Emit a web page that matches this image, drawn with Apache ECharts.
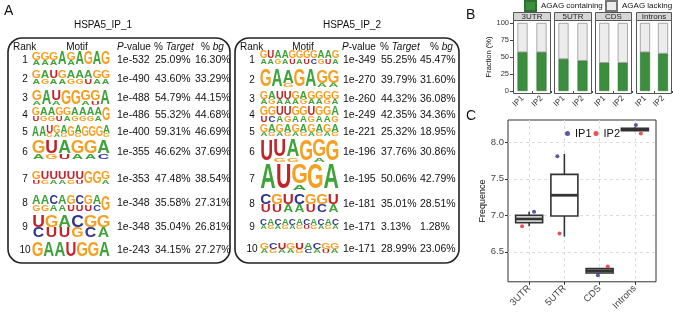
<!DOCTYPE html>
<html>
<head>
<meta charset="utf-8">
<script src="https://cdn.jsdelivr.net/npm/echarts@6/dist/echarts.min.js"></script>
<style>
  html, body { margin: 0; padding: 0; background: #fff; }
  #main { width: 673px; height: 313px; }
</style>
</head>
<body>
<div id="main"></div>
<script>
var FONT = 'Liberation Sans, Arial, sans-serif';

// ---- A: top motifs (HOMER) for the two replicates
var ranks = ['1', '2', '3', '4', '5', '6', '7', '8', '9', '10'];

var ip1Motifs = ['GGGAGAGAG', 'GAUGAAAGG', 'GAUGGGGA', 'GAAGGAAAAG', 'AAUGAGAGGGA',
                 'GUAGGA', 'GUUUUUGGG', 'AACAGCGAG', 'UGACGG', 'GAAUGGA'];
var ip1MotifsSub = ['AAA.A....', 'AGAAGGUAA', 'A.A..AU.', 'UGGUAGGGA.', '..GAG.G...G',
                    'AGUAAC', 'UGAAGU..A', 'GGAAUUUC.', 'CUUGCA', '.......'];
var ip1TopShare = [0.65, 0.6, 0.7, 0.6, 0.7, 0.7, 0.7, 0.6, 0.55, 1];
var ip1PValues = ['1e-532', '1e-490', '1e-488', '1e-486', '1e-400', '1e-355', '1e-353', '1e-348', '1e-348', '1e-243'];
var ip1Target = ['25.09%', '43.60%', '54.79%', '55.32%', '59.31%', '46.62%', '47.48%', '35.58%', '35.04%', '34.15%'];
var ip1Bg = ['16.30%', '33.29%', '44.15%', '44.68%', '46.69%', '37.69%', '38.54%', '27.31%', '26.81%', '27.27%'];

var ip2Motifs = ['GUAAGGGGAAG', 'GAAGAGG', 'GAUUGAGGGG', 'GGUUGGUGGA', 'GAGAGAGAGA',
                 'UUAGGG', 'AUGGA', 'CGUCGGU', 'CACACACACAC', 'GCUGUACGG'];
var ip2MotifsSub = ['AAGAUAUCGUA', '..G..AA', 'AGAAAGAAGA', 'UCAGAAGAAG', 'AGAGAGAGAG',
                    '.GG.A.', '..A..', 'UUAAUCA', 'AGAGAGUGAGA', 'AGAAGCAUA'];
var ip2TopShare = [0.6, 0.8, 0.65, 0.6, 0.7, 0.8, 0.8, 0.55, 0.65, 0.65];
var ip2PValues = ['1e-349', '1e-270', '1e-260', '1e-249', '1e-221', '1e-196', '1e-195', '1e-181', '1e-171', '1e-171'];
var ip2Target = ['55.25%', '39.79%', '44.32%', '42.35%', '25.32%', '37.76%', '50.06%', '35.01%', '3.13%', '28.99%'];
var ip2Bg = ['45.47%', '31.60%', '36.08%', '34.36%', '18.95%', '30.86%', '42.79%', '28.51%', '1.28%', '23.06%'];

// ---- B: fraction of peaks with AGAG
var regions = ['3UTR', '5UTR', 'CDS', 'Introns'];
var ipLabels = ['IP1', 'IP2'];
var agagContaining = [[57, 57], [47, 44.5], [41.5, 41.5], [57, 55]];
var agagLacking = [[43, 43], [53, 55.5], [58.5, 58.5], [43, 45]];
var fractionTicks = [0, 25, 50, 75, 100];

// ---- C: AGAG frequence per region
var freqCategories = ['3UTR', '5UTR', 'CDS', 'Introns'];
// [min, Q1, median, Q3, max]
var freqBoxes = [
  [6.85, 6.90, 6.95, 7.00, 7.05],
  [6.71, 6.99, 7.275, 7.56, 7.84],
  [6.20, 6.21, 6.24, 6.27, 6.28],
  [8.15, 8.16, 8.177, 8.19, 8.205]
];
var ip1Freq = [7.05, 7.81, 6.18, 8.235];
var ip2Freq = [6.85, 6.75, 6.30, 8.12];
var ip1Jitter = [0.14, -0.2, -0.05, 0.03];
var ip2Jitter = [-0.2, -0.14, 0.23, 0.17];
var freqTicks = [6.5, 7.0, 7.5, 8.0];

// ---- colours
var LETTER_COLORS = { A: '#3da33a', G: '#f6a023', U: '#c42229', C: '#2f3590' };
var GREEN = '#3b8e3e';
var LIGHT = '#ececec';

// ---- table layout
var tables = [
  { title: 'HSPA5_IP_1', titleX: 103, box: [8, 38, 222, 225],
    head: { rank: 13, motif: 77, p: 117, t: 154, bg: 201 },
    num: 25, motifX: 32, motifW: 78, p: 117, t: 155, bg: 195,
    rowY: [60, 79, 98, 115, 132, 152, 179, 203, 227, 250],
    logoY: [59, 78, 98, 115, 132, 151, 178, 204, 227, 250],
    logoH: [13, 13, 15, 13, 11, 18, 12, 15, 22, 15],
    motifs: ip1Motifs, sub: ip1MotifsSub, share: ip1TopShare,
    pv: ip1PValues, tg: ip1Target, bgv: ip1Bg },
  { title: 'HSPA5_IP_2', titleX: 352, box: [235, 38, 224, 225],
    head: { rank: 240, motif: 303, p: 342, t: 380, bg: 430 },
    num: 252, motifX: 260, motifW: 79, p: 343, t: 381, bg: 420,
    rowY: [60, 80, 99, 115, 132, 152, 179, 204, 227, 249],
    logoY: [58, 79, 98, 115, 131, 152, 178, 204, 224, 248],
    logoH: [14, 17, 13, 15, 11, 21, 25, 18, 11, 11],
    motifs: ip2Motifs, sub: ip2MotifsSub, share: ip2TopShare,
    pv: ip2PValues, tg: ip2Target, bgv: ip2Bg }
];

function txt(x, y, s, opt) {
  opt = opt || {};
  return {
    type: 'text', x: x, y: y, silent: true,
    style: {
      text: s, fill: opt.color || '#111', fontSize: opt.size || 10,
      fontFamily: FONT, fontWeight: opt.weight || 'normal',
      align: opt.align || 'left', verticalAlign: 'middle',
      textAlign: opt.align || 'left', textVerticalAlign: 'middle',
      rich: opt.rich
    }
  };
}

function letter(ch, cx, cy, w, h) {
  return {
    type: 'text', x: cx, y: cy, silent: true,
    scaleX: w / 14.8, scaleY: h / 14.4,
    style: {
      text: ch, fill: LETTER_COLORS[ch], fontSize: 20, fontWeight: 'bold', fontFamily: FONT,
      align: 'center', verticalAlign: 'middle', textAlign: 'center', textVerticalAlign: 'middle'
    }
  };
}

function logo(top, sub, share, x0, w, cy, h) {
  var els = [];
  var cw = w / top.length;
  for (var i = 0; i < top.length; i++) {
    var cx = x0 + cw * (i + 0.5);
    var y0 = cy - h / 2;
    var ht = sub[i] === '.' ? h : h * share;
    els.push(letter(top[i], cx, y0 + ht / 2, cw, ht));
    if (sub[i] !== '.') {
      els.push(letter(sub[i], cx, y0 + ht + (h - ht) / 2, cw * 0.9, h - ht));
    }
  }
  return els;
}

var italic = { it: { fontStyle: 'italic', fontSize: 10, fontFamily: FONT, fill: '#111' } };
var graphics = [];
tables.forEach(function (tb) {
  graphics.push(txt(tb.titleX, 25, tb.title, { align: 'center' }));
  graphics.push({
    type: 'rect', silent: true,
    shape: { x: tb.box[0], y: tb.box[1], width: tb.box[2], height: tb.box[3], r: 14 },
    style: { fill: 'none', stroke: '#222', lineWidth: 1.6 }
  });
  graphics.push(txt(tb.head.rank, 47, 'Rank'));
  graphics.push(txt(tb.head.motif, 47, 'Motif', { align: 'center' }));
  graphics.push(txt(tb.head.p, 47, '{it|P}-value', { rich: italic }));
  graphics.push(txt(tb.head.t, 47, '% {it|Target}', { rich: italic }));
  graphics.push(txt(tb.head.bg, 47, '% {it|bg}', { rich: italic }));
  ranks.forEach(function (r, i) {
    var y = tb.rowY[i];
    graphics.push(txt(tb.num, y, r, { align: 'center' }));
    graphics = graphics.concat(logo(tb.motifs[i], tb.sub[i], tb.share[i], tb.motifX, tb.motifW, tb.logoY[i], tb.logoH[i]));
    graphics.push(txt(tb.p, y, tb.pv[i], { size: 10.5 }));
    graphics.push(txt(tb.t, y, tb.tg[i], { size: 10.5 }));
    graphics.push(txt(tb.bg, y, tb.bgv[i], { size: 10.5 }));
  });
});

graphics.push(txt(4, 11, 'A', { size: 14 }));
graphics.push(txt(466, 15, 'B', { size: 14 }));
graphics.push(txt(466, 116, 'C', { size: 14 }));

// ---- B facets
var facetLeft = [513, 554, 595, 636];
var facetWidth = [38, 38, 37, 36];
var grids = [], xAxes = [], yAxes = [], series = [];

regions.forEach(function (reg, k) {
  grids.push({ left: facetLeft[k], top: 20, width: facetWidth[k], height: 74, show: false });
  xAxes.push({
    type: 'category', gridIndex: k, data: ipLabels,
    axisLine: { show: false },
    axisTick: { show: true, length: 2, lineStyle: { color: '#444' } },
    axisLabel: { rotate: 45, fontSize: 8, color: '#333', fontFamily: FONT, margin: 3 }
  });
  yAxes.push({
    type: 'value', gridIndex: k, min: -4.4, max: 104.4,
    name: k === 0 ? 'Fraction (%)' : '', nameLocation: 'middle', nameGap: 14,
    nameTextStyle: { fontSize: 7.5, color: '#111', fontFamily: FONT },
    axisLine: { show: false },
    splitLine: { show: false },
    axisTick: { show: k === 0, length: 3, customValues: fractionTicks, lineStyle: { color: '#444' } },
    axisLabel: { show: k === 0, customValues: fractionTicks, fontSize: 7.5, color: '#333', fontFamily: FONT, margin: 4 }
  });
  series.push({
    name: 'AGAG containing', type: 'bar', stack: 's' + k, xAxisIndex: k, yAxisIndex: k,
    barWidth: 10, data: agagContaining[k],
    itemStyle: { color: GREEN, borderColor: '#2f6f31', borderWidth: 0.5 }
  });
  series.push({
    name: 'AGAG lacking', type: 'bar', stack: 's' + k, xAxisIndex: k, yAxisIndex: k,
    barWidth: 10, data: agagLacking[k],
    itemStyle: { color: LIGHT, borderColor: '#777', borderWidth: 0.6 }
  });
  // panel border and strip
  graphics.push({
    type: 'rect', silent: true,
    shape: { x: facetLeft[k] + 0.5, y: 20.5, width: facetWidth[k] - 1, height: 73 },
    style: { fill: 'none', stroke: '#555', lineWidth: 1 }
  });
  graphics.push({
    type: 'rect', silent: true,
    shape: { x: facetLeft[k] + 0.5, y: 12.5, width: facetWidth[k] - 1, height: 8 },
    style: { fill: '#d6d6d6', stroke: '#555', lineWidth: 1 }
  });
  graphics.push(txt(facetLeft[k] + facetWidth[k] / 2, 16.5, reg, { align: 'center', size: 8, color: '#222' }));
});

// ---- C
var gC = grids.length;
grids.push({ left: 508, right: 17, top: 120, bottom: 26, show: true, borderColor: '#333', borderWidth: 1 });
xAxes.push({
  type: 'value', gridIndex: gC, min: 0.4, max: 4.6,
  axisLine: { show: false },
  axisTick: { show: true, length: 3, customValues: [1, 2, 3, 4], lineStyle: { color: '#333' } },
  axisLabel: {
    customValues: [1, 2, 3, 4], rotate: 45, fontSize: 9.5, color: '#444', fontFamily: FONT, margin: 5,
    formatter: function (v) { return freqCategories[Math.round(v) - 1]; }
  },
  splitLine: { show: true, lineStyle: { color: '#dcdcdc', type: [3, 3] } }
});
yAxes.push({
  type: 'value', gridIndex: gC, min: 6.09, max: 8.305,
  name: 'Frequence', nameLocation: 'middle', nameGap: 13,
  nameTextStyle: { fontSize: 9, color: '#111', fontFamily: FONT },
  axisLine: { show: false },
  axisTick: { show: true, length: 3, customValues: freqTicks, lineStyle: { color: '#333' } },
  axisLabel: {
    customValues: freqTicks, fontSize: 9.5, color: '#444', fontFamily: FONT, margin: 4,
    formatter: function (v) { return v.toFixed(1); }
  },
  splitLine: { show: true, lineStyle: { color: '#dcdcdc', type: [3, 3] } }
});

series.push({
  type: 'custom', xAxisIndex: gC, yAxisIndex: gC, silent: true,
  data: freqBoxes.map(function (b, i) { return [i + 1].concat(b); }),
  renderItem: function (params, api) {
    var x = api.value(0);
    var pMin = api.coord([x, api.value(1)]);
    var pQ1 = api.coord([x, api.value(2)]);
    var pMed = api.coord([x, api.value(3)]);
    var pQ3 = api.coord([x, api.value(4)]);
    var pMax = api.coord([x, api.value(5)]);
    var hw = 13.5;
    var st = { stroke: '#333', lineWidth: 1.6, fill: 'none' };
    return {
      type: 'group',
      children: [
        { type: 'line', shape: { x1: pMax[0], y1: pMax[1], x2: pQ3[0], y2: pQ3[1] }, style: st },
        { type: 'line', shape: { x1: pQ1[0], y1: pQ1[1], x2: pMin[0], y2: pMin[1] }, style: st },
        { type: 'rect', shape: { x: pQ3[0] - hw, y: pQ3[1], width: hw * 2, height: pQ1[1] - pQ3[1] },
          style: { stroke: '#333', lineWidth: 1.6, fill: '#fff' } },
        { type: 'line', shape: { x1: pMed[0] - hw, y1: pMed[1], x2: pMed[0] + hw, y2: pMed[1] },
          style: { stroke: '#333', lineWidth: 2.8 } }
      ]
    };
  }
});
series.push({
  name: 'IP1', type: 'scatter', xAxisIndex: gC, yAxisIndex: gC, symbolSize: 4,
  itemStyle: { color: '#2e2f8e' },
  data: ip1Freq.map(function (v, i) { return [i + 1 + ip1Jitter[i], v]; })
});
series.push({
  name: 'IP2', type: 'scatter', xAxisIndex: gC, yAxisIndex: gC, symbolSize: 4,
  itemStyle: { color: '#e4262b' },
  data: ip2Freq.map(function (v, i) { return [i + 1 + ip2Jitter[i], v]; })
});

var barLegend = {
  top: 0, padding: 0, icon: 'rect', itemWidth: 11, itemHeight: 10,
  textStyle: { fontSize: 8, color: '#111' }
};

var chart = echarts.init(document.getElementById('main'));
chart.setOption({
  animation: false,
  backgroundColor: '#fff',
  textStyle: { fontFamily: FONT },
  legend: [
    Object.assign({ data: ['AGAG containing'], left: 524 }, barLegend),
    Object.assign({ data: ['AGAG lacking'], left: 605 }, barLegend),
    {
      data: ['IP1', 'IP2'], left: 560, top: 123,
      icon: 'circle', itemWidth: 5, itemHeight: 5, itemGap: 2,
      textStyle: { fontSize: 11, color: '#111' }
    }
  ],
  grid: grids,
  xAxis: xAxes,
  yAxis: yAxes,
  series: series,
  graphic: { elements: graphics }
});
</script>
</body>
</html>
